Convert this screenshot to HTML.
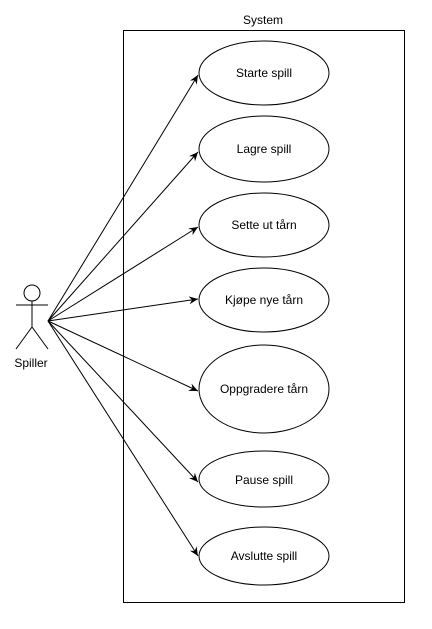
<!DOCTYPE html>
<html><head><meta charset="utf-8"><style>body{margin:0;background:#fff}svg{display:block}</style></head>
<body>
<svg width="432" height="629" viewBox="0 0 432 629" xmlns="http://www.w3.org/2000/svg" font-family="Liberation Sans, Arial, sans-serif" font-size="12">
<defs><marker id="a" markerWidth="10" markerHeight="10" refX="9" refY="5" orient="auto" markerUnits="userSpaceOnUse"><path d="M0,1 L9,5 L0,9 L3,5 Z" fill="#000"/></marker></defs>
<rect x="123.5" y="30.5" width="281" height="572" fill="none" stroke="#000"/>
<text x="263" y="24" text-anchor="middle">System</text>
<g fill="#fff" stroke="#000">
<ellipse cx="264" cy="73" rx="65" ry="32"/>
<ellipse cx="264" cy="149" rx="65" ry="33"/>
<ellipse cx="264" cy="225" rx="65" ry="32"/>
<ellipse cx="264" cy="300" rx="65" ry="32"/>
<ellipse cx="264" cy="389" rx="65" ry="44"/>
<ellipse cx="264" cy="479" rx="65" ry="28"/>
<ellipse cx="264" cy="556" rx="65" ry="29"/>
</g>
<g text-anchor="middle">
<text x="264" y="77">Starte spill</text>
<text x="264" y="153">Lagre spill</text>
<text x="264" y="229">Sette ut tårn</text>
<text x="264" y="304">Kjøpe nye tårn</text>
<text x="264" y="393">Oppgradere tårn</text>
<text x="264" y="484">Pause spill</text>
<text x="264" y="560">Avslutte spill</text>
</g>
<g stroke="#000" fill="none" marker-end="url(#a)">
<line x1="48" y1="321" x2="198" y2="75"/>
<line x1="48" y1="321" x2="198" y2="152"/>
<line x1="48" y1="321" x2="198" y2="227"/>
<line x1="48" y1="321" x2="198" y2="299"/>
<line x1="48" y1="321" x2="198" y2="391"/>
<line x1="48" y1="321" x2="198" y2="482"/>
<line x1="48" y1="321" x2="198" y2="556"/>
</g>
<g stroke="#000" fill="#fff">
<circle cx="32" cy="293" r="8"/>
<line x1="32" y1="301" x2="32" y2="327"/>
<line x1="16" y1="305" x2="48" y2="305"/>
<line x1="32" y1="327" x2="16" y2="349"/>
<line x1="32" y1="327" x2="48" y2="349"/>
</g>
<text x="31" y="367" text-anchor="middle">Spiller</text>
</svg>
</body></html>
